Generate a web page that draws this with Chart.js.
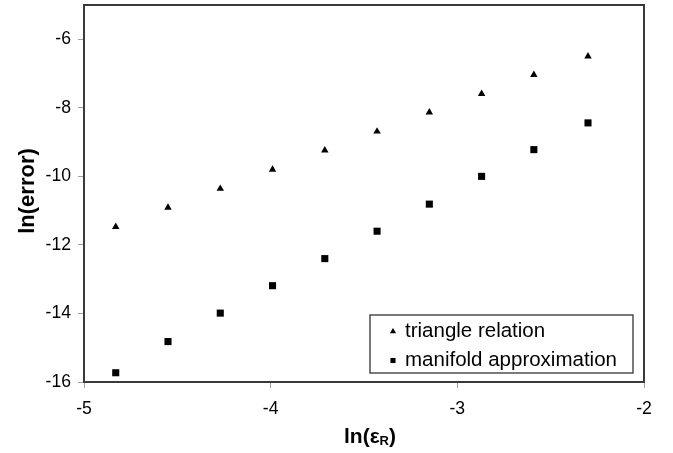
<!DOCTYPE html>
<html>
<head>
<meta charset="utf-8">
<script src="https://cdn.jsdelivr.net/npm/chart.js@4.4.1/dist/chart.umd.min.js"></script>
<style>
    html, body { margin: 0; padding: 0; background: #ffffff; }
    #wrap { width: 673px; height: 453px; }
</style>
</head>
<body>
<div id="wrap"><canvas id="chart" width="673" height="453"></canvas></div>
<script>
/* chart values */
const lnEps       = [-4.83, -4.55, -4.27, -3.99, -3.71, -3.43, -3.15, -2.87, -2.59, -2.30];
const triangleErr = [-11.47, -10.91, -10.36, -9.80, -9.24, -8.69, -8.13, -7.59, -7.04, -6.50];
const manifoldErr = [-15.73, -14.82, -13.99, -13.19, -12.40, -11.60, -10.81, -10.00, -9.22, -8.44];
const seriesNames = ["triangle relation", "manifold approximation"];
const xTicks      = [-5, -4, -3, -2];
const yTicks      = [-16, -14, -12, -10, -8, -6];

const FONT = "'Liberation Sans', Arial, Helvetica, sans-serif";

function toPoints (xs, ys) {
    return xs.map((x, i) => ({ x: x, y: ys[i] }));
}

/* frame around the plot area */
const frameBox = {
    id: "frameBox",
    afterDatasetsDraw (chart) {
        const a = chart.chartArea;
        const ctx = chart.ctx;
        ctx.save();
        ctx.strokeStyle = "#3a3a3a";
        ctx.lineWidth = 2;
        ctx.strokeRect(a.left, a.top, a.right - a.left, a.bottom - a.top);
        ctx.restore();
    }
};

/* axis titles, x title needs a subscript */
const axisTitles = {
    id: "axisTitles",
    afterDraw (chart) {
        const ctx = chart.ctx;
        const a = chart.chartArea;
        ctx.save();
        ctx.fillStyle = "#000";
        ctx.textBaseline = "alphabetic";

        // y title
        ctx.font = "bold 22px " + FONT;
        ctx.translate(34, 191);
        ctx.rotate(-Math.PI / 2);
        ctx.textAlign = "center";
        ctx.fillText("ln(error)", 0, 0);
        ctx.setTransform(1, 0, 0, 1, 0, 0);

        // x title: ln(ε_R)
        const big = "bold 21px " + FONT;
        const sub = "bold 13px " + FONT;
        ctx.font = big;
        const w1 = ctx.measureText("ln(\u03b5").width;
        const w3 = ctx.measureText(")").width;
        ctx.font = sub;
        const w2 = ctx.measureText("R").width;
        let x = (a.left + a.right) / 2 + 6 - (w1 + w2 + w3) / 2;
        const base = 443;
        ctx.textAlign = "left";
        ctx.font = big;
        ctx.fillText("ln(\u03b5", x, base);
        x += w1;
        ctx.font = sub;
        ctx.fillText("R", x, base + 2);
        x += w2;
        ctx.font = big;
        ctx.fillText(")", x, base);
        ctx.restore();
    }
};

/* boxed legend inside the plot, lower right */
const insetLegend = {
    id: "insetLegend",
    afterDraw (chart, args, opts) {
        const ctx = chart.ctx;
        const b = opts.box;
        ctx.save();
        ctx.fillStyle = "#fff";
        ctx.fillRect(b.x, b.y, b.w, b.h);
        ctx.strokeStyle = "#333";
        ctx.lineWidth = 1.3;
        ctx.strokeRect(b.x, b.y, b.w, b.h);
        ctx.font = opts.fontSize + "px " + FONT;
        ctx.textBaseline = "middle";
        ctx.textAlign = "left";
        chart.data.datasets.forEach((ds, i) => {
            const cy = b.y + opts.firstRow + i * opts.rowGap;
            ctx.fillStyle = "#000";
            ctx.strokeStyle = "#000";
            Chart.helpers.drawPoint(ctx, {
                pointStyle: ds.pointStyle,
                radius: opts.markRadius,
                rotation: 0,
                borderWidth: 0
            }, b.x + opts.markX, cy);
            ctx.fillStyle = "#000";
            ctx.fillText(ds.label, b.x + opts.textX, cy);
        });
        ctx.restore();
    }
};

function fixTicks (values) {
    return function (scale) {
        scale.ticks = values.map(v => ({ value: v }));
    };
}

function noOverflow (scale) {
    scale.paddingTop = 0;
    scale.paddingBottom = 0;
    scale.paddingLeft = 0;
    scale.paddingRight = 0;
}

function drawChart () {
    try {
        const ctx = document.getElementById("chart").getContext("2d");
        return new Chart(ctx, {
            type: "scatter",
            data: {
                datasets: [
                    {
                        label: seriesNames[0],
                        data: toPoints(lnEps, triangleErr),
                        pointStyle: "triangle",
                        pointRadius: 4.3,
                        backgroundColor: "#000",
                        borderColor: "#000",
                        borderWidth: 0
                    },
                    {
                        label: seriesNames[1],
                        data: toPoints(lnEps, manifoldErr),
                        pointStyle: "rect",
                        pointRadius: 5,
                        backgroundColor: "#000",
                        borderColor: "#000",
                        borderWidth: 0
                    }
                ]
            },
            options: {
                responsive: false,
                devicePixelRatio: 1,
                animation: false,
                layout: { padding: { top: 2.5, right: 29, left: 0, bottom: 0 } },
                scales: {
                    x: {
                        type: "linear",
                        min: -5,
                        max: -2,
                        afterBuildTicks: fixTicks(xTicks),
                        afterFit (scale) { scale.height = 71; noOverflow(scale); },
                        border: { display: false },
                        grid: {
                            drawOnChartArea: false,
                            drawTicks: true,
                            tickLength: 6,
                            color: "#a0a0a0"
                        },
                        ticks: {
                            padding: 11,
                            color: "#000",
                            maxRotation: 0,
                            font: { family: FONT, size: 17.6 }
                        }
                    },
                    y: {
                        type: "linear",
                        min: -16,
                        max: -5,
                        afterBuildTicks: fixTicks(yTicks),
                        afterFit (scale) { scale.width = 84; noOverflow(scale); },
                        border: { display: false },
                        grid: {
                            drawOnChartArea: false,
                            drawTicks: true,
                            tickLength: 6,
                            color: "#a0a0a0"
                        },
                        ticks: {
                            padding: 7,
                            color: "#000",
                            font: { family: FONT, size: 17.6 }
                        }
                    }
                },
                plugins: {
                    legend: { display: false },
                    tooltip: { enabled: false },
                    insetLegend: {
                        box: { x: 370, y: 315, w: 263, h: 58 },
                        fontSize: 20.5,
                        firstRow: 16.5,
                        rowGap: 29,
                        markX: 23,
                        textX: 35,
                        markRadius: 3.6
                    }
                }
            },
            plugins: [frameBox, axisTitles, insetLegend]
        });
    } catch (e) {
        console.error(e.stack);
        throw e;
    }
}

drawChart();
</script>
</body>
</html>
